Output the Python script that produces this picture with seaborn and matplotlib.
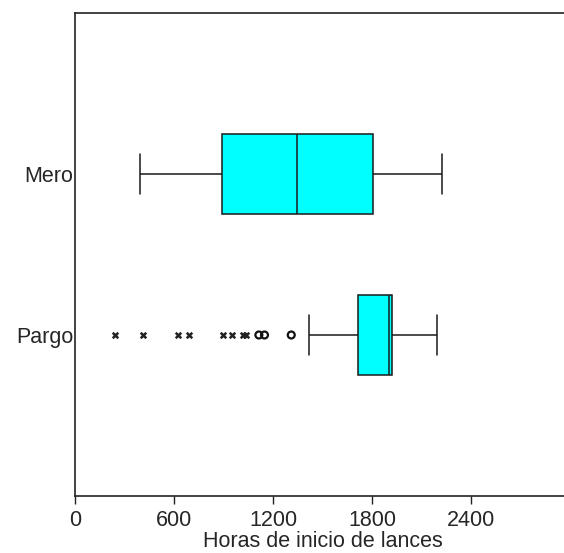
"""Diagrama de caja: horas de inicio de lances para Mero y Pargo."""

import matplotlib

matplotlib.use("Agg")
import matplotlib.pyplot as plt
import pandas as pd
import seaborn as sns

# Valores (min, Q1, Q1, mediana, Q3, Q3, max) para cada especie.
especies = ["Mero", "Pargo"]
mero_horas = [396, 887, 887, 1341, 1801, 1801, 2222]
pargo_horas = [1415, 1712, 1712, 1900, 1920, 1920, 2194]

# Valores atipicos de Pargo: extremos (x) y moderados (circulos).
pargo_extremos = [240, 410, 626, 689, 895, 949, 1016, 1036]
pargo_moderados = [1113, 1147, 1309]

xticks = [0, 600, 1200, 1800, 2400]

datos = pd.DataFrame(
    {
        "especie": ["Mero"] * len(mero_horas) + ["Pargo"] * len(pargo_horas),
        "hora": mero_horas + pargo_horas,
    }
)

sns.set_theme(style="ticks")
plt.rcParams["font.family"] = ["Liberation Sans", "DejaVu Sans"]

fig = plt.figure(figsize=(5.64, 5.53), dpi=100)
ax = fig.add_axes([75 / 564, 1 - 496 / 553, 495.6 / 564, 483 / 553])

sns.boxplot(
    data=datos,
    x="hora",
    y="especie",
    order=especies,
    orient="h",
    whis=(0, 100),
    showfliers=False,
    width=0.5,
    color="#00ffff",
    linecolor="#1a1a1a",
    linewidth=1.1,
    saturation=1,
    ax=ax,
)

sns.stripplot(
    x=pargo_extremos,
    y=["Pargo"] * len(pargo_extremos),
    order=especies,
    orient="h",
    jitter=False,
    marker="x",
    size=4,
    linewidth=1.8,
    color="#222222",
    ax=ax,
)
sns.stripplot(
    x=pargo_moderados,
    y=["Pargo"] * len(pargo_moderados),
    order=especies,
    orient="h",
    jitter=False,
    marker="o",
    size=5,
    linewidth=1.6,
    facecolor="none",
    edgecolor="#111111",
    ax=ax,
)

ax.set_xlim(0, 3000)
ax.set_ylim(2, -1)
ax.set_xticks(xticks)
ax.set_xticklabels([str(t) for t in xticks])
ax.tick_params(axis="x", length=6, width=1, labelsize=15.5, pad=4, color="#222222")
ax.tick_params(axis="y", length=0, labelsize=15.5, pad=1)
ax.set_xlabel("Horas de inicio de lances", fontsize=15.5, labelpad=0)
ax.set_ylabel("")
for spine in ax.spines.values():
    spine.set_color("#222222")
    spine.set_linewidth(1.2)
ax.spines["right"].set_visible(False)

fig.savefig("out.png", dpi=100)
